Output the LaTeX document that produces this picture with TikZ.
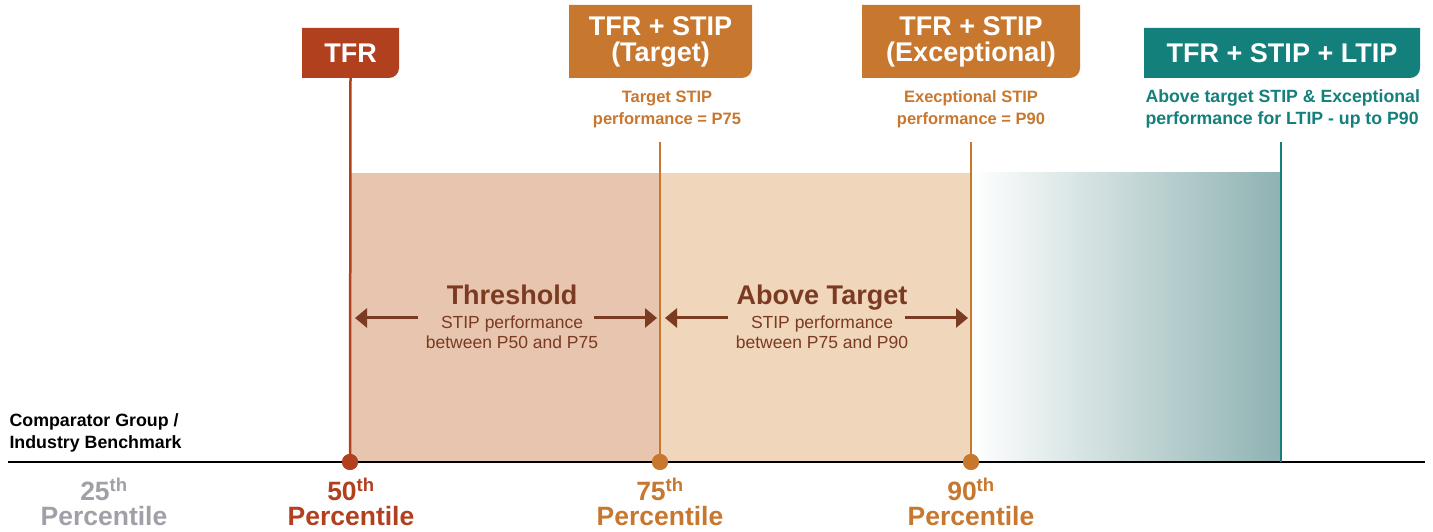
\documentclass[tikz,border=0pt]{standalone}
\usepackage{fontspec}
\setmainfont{Liberation Sans}
\usetikzlibrary{arrows.meta}
\definecolor{tfrred}{HTML}{B1401F}
\definecolor{stiporange}{HTML}{C8772E}
\definecolor{ltipteal}{HTML}{13807B}
\definecolor{arrowbrown}{HTML}{7B3A22}
\definecolor{zoneone}{HTML}{E7C5AF}
\definecolor{zonetwo}{HTML}{F0D6BB}
\definecolor{zonethree}{HTML}{8FB2B2}
\definecolor{lowgray}{HTML}{A0A0A8}

\begin{document}
\begin{tikzpicture}[x=1pt,y=1pt,
	tab/.style={inner sep=0pt,text=white,align=center,font=\fontsize{27}{26}\selectfont\bfseries,
		path picture={\fill[#1] (path picture bounding box.south west) -- (path picture bounding box.north west)
			-- (path picture bounding box.north east) -- ([yshift=10pt]path picture bounding box.south east)
			arc[start angle=0,end angle=-90,radius=10pt] -- cycle;}},
	note/.style={align=center,font=\fontsize{16.5}{22}\selectfont\bfseries},
	pct/.style={anchor=base,inner sep=0pt,text height=19pt,text depth=0pt,font=\fontsize{26.5}{24}\selectfont\bfseries},
	dot/.style={circle,fill=#1,inner sep=0pt,minimum size=16pt},
	zonehead/.style={text=arrowbrown,text height=19pt,text depth=0pt,font=\fontsize{27}{28}\selectfont\bfseries},
	zonetext/.style={text=arrowbrown,align=center,font=\fontsize{17.5}{20}\selectfont},
	span/.style={arrowbrown,line width=3pt,-{Triangle[length=12pt,width=19pt]}}]
	\useasboundingbox (0,0) rectangle (1433,532);

	\fill[zoneone] (350,70) rectangle (660,359);
	\fill[zonetwo] (660,70) rectangle (971,359);
	\shade[left color=white,right color=zonethree] (971,70) rectangle (1281,359);

	\node[tab=tfrred,minimum width=97pt,minimum height=50pt] (tfr) at (350.5,479) {TFR};
	\node[tab=stiporange,minimum width=183pt,minimum height=73pt] (tgt) at (660.5,490.5) {TFR + STIP\\(Target)};
	\node[tab=stiporange,minimum width=218pt,minimum height=73pt] (exc) at (971,490.5) {TFR + STIP\\(Exceptional)};
	\node[tab=ltipteal,minimum width=276pt,minimum height=50pt] (ltip) at (1282,479) {TFR + STIP + LTIP};

	\node[note,text=stiporange] (tgtnote) at (667,423) {Target STIP\\performance = P75};
	\node[note,text=stiporange] (excnote) at (971,423) {Execptional STIP\\performance = P90};
	\node[note,text=ltipteal,align=left,anchor=west,font=\fontsize{17.7}{22}\selectfont\bfseries] (ltipnote) at (1142,423) {Above target STIP \& Exceptional\\performance for LTIP - up to P90};

	\coordinate (axisl) at (8,70);
	\coordinate (axisr) at (1425,70);
	\coordinate (tgttop) at (660,390);
	\coordinate (exctop) at (971,390);
	\coordinate (ltiptop) at (1281,390);
	\coordinate (ltipbot) at (1281,70);
	\draw[line width=2pt] (axisl) -- (axisr);

	\node[dot=tfrred] (p50) at (350,70) {};
	\node[dot=stiporange] (p75) at (660,70) {};
	\node[dot=stiporange] (p90) at (971,70) {};
	\draw[tfrred,line width=2.5pt] (tfr.south) -- (p50.center);
	\draw[stiporange,line width=2.5pt] (tgttop) -- (p75.center);
	\draw[stiporange,line width=2.5pt] (exctop) -- (p90.center);
	\draw[ltipteal,line width=2.5pt] (ltiptop) -- (ltipbot);
	\node[dot=tfrred] at (p50) {};
	\node[dot=stiporange] at (p75) {};
	\node[dot=stiporange] at (p90) {};

	\node[zonehead] (thrhead) at (512,237) {Threshold};
	\node[zonetext] (thrtext) at (512,200) {STIP performance\\between P50 and P75};
	\node[zonehead] (abvhead) at (822,237) {Above Target};
	\node[zonetext] (abvtext) at (822,200) {STIP performance\\between P75 and P90};
	\coordinate (thrl) at (418,214);
	\coordinate (thrr) at (594,214);
	\coordinate (abvl) at (728,214);
	\coordinate (abvr) at (905,214);
	\draw[span] (thrl) -- (355,214);
	\draw[span] (thrr) -- (657,214);
	\draw[span] (abvl) -- (665,214);
	\draw[span] (abvr) -- (968,214);

	\node[align=left,anchor=west,font=\fontsize{17.8}{22}\selectfont\bfseries] (bench) at (6,99) {Comparator Group /\\Industry Benchmark};

	\node[pct,text=lowgray] (n25) at (104,31) {25\textsuperscript{th}};
	\node[pct,text=lowgray] (l25) at (104,6) {Percentile};
	\node[pct,text=tfrred] (n50) at (351,31) {50\textsuperscript{th}};
	\node[pct,text=tfrred] (l50) at (351,6) {Percentile};
	\node[pct,text=stiporange] (n75) at (660,31) {75\textsuperscript{th}};
	\node[pct,text=stiporange] (l75) at (660,6) {Percentile};
	\node[pct,text=stiporange] (n90) at (971,31) {90\textsuperscript{th}};
	\node[pct,text=stiporange] (l90) at (971,6) {Percentile};
\end{tikzpicture}
\end{document}
